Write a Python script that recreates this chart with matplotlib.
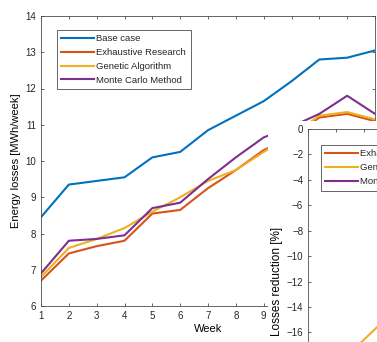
import matplotlib
matplotlib.use('Agg')
import matplotlib.pyplot as plt
from matplotlib.patches import Rectangle

weeks = [1, 2, 3, 4, 5, 6, 7, 8, 9, 10, 11, 12, 13]
week_labels = ['1', '2', '3', '4', '5', '6', '7', '8', '9', '', '', '', '']

# weekly energy losses [MWh/week]
base_case = [8.45, 9.35, 9.45, 9.55, 10.1, 10.25, 10.85, 11.25, 11.65, 12.2, 12.8, 12.85, 13.05]
exhaustive = [6.7, 7.45, 7.65, 7.8, 8.55, 8.65, 9.25, 9.75, 10.3, 10.65, 11.2, 11.3, 11.1]
genetic = [6.8, 7.6, 7.85, 8.15, 8.6, 9.0, 9.45, 9.75, 10.25, 10.7, 11.25, 11.35, 11.15]
monte_carlo = [6.9, 7.8, 7.85, 7.95, 8.7, 8.85, 9.5, 10.1, 10.65, 10.95, 11.3, 11.8, 11.3]

# losses reduction [%] (inset, mostly cut off)
red_exhaustive = [-20.7, -20.3, -19.0, -18.3, -15.3, -15.6, -14.7, -13.3, -11.6, -12.7, -12.5, -12.1, -14.9]
red_genetic = [-19.5, -18.7, -16.6, -14.5, -14.9, -12.2, -12.9, -13.3, -12.0, -12.3, -12.1, -11.7, -14.6]
red_monte_carlo = [-18.3, -16.9, -16.9, -16.8, -13.9, -13.7, -12.4, -10.2, -8.6, -10.2, -11.7, -8.2, -13.4]

labels = ['Base case', 'Exhaustive Research', 'Genetic Algorithm', 'Monte Carlo Method']
colors = ['#0072BD', '#D95319', '#EDB120', '#7E2F8E']

plt.rcParams['font.family'] = ['Liberation Sans', 'DejaVu Sans']
plt.rcParams['text.color'] = '#262626'
W, H = 377, 342


def style(ax):
    for s in ax.spines.values():
        s.set_color('#4d4d4d')
        s.set_linewidth(0.6)
    ax.tick_params(direction='in', length=2.5, width=0.6, colors='#4d4d4d',
                   labelcolor='#262626', labelsize=7, top=True, right=True)


fig = plt.figure(figsize=(W / 100, H / 100), dpi=100)

ax = fig.add_axes([41 / W, 36 / H, 334 / W, 290 / H])
for ys, c, lab in zip([base_case, exhaustive, genetic, monte_carlo], colors, labels):
    ax.plot(weeks, ys, color=c, lw=1.5, label=lab)
ax.set_xlim(1, 13)
ax.set_ylim(6, 14)
ax.set_xticks(weeks)
ax.set_xticklabels(week_labels)
ax.set_yticks(range(6, 15))
style(ax)
ax.set_xlabel('Week', fontsize=8, labelpad=2)
ax.set_ylabel('Energy losses [MWh/week]', fontsize=8)
ax.yaxis.set_label_coords(-0.06, 0.5)
leg = ax.legend(loc='upper left', bbox_to_anchor=(52 / W, 1 - 25 / H), bbox_transform=fig.transFigure,
                fontsize=6.8, handlelength=3.4, handletextpad=0.3, labelspacing=0.5,
                borderpad=0.5, fancybox=False, framealpha=1, edgecolor='#4d4d4d')
leg.get_frame().set_linewidth(0.6)

# white background of the overlapping second figure
fig.patches.append(Rectangle((268 / W, 0), (W - 268) / W, (H - 121) / H, transform=fig.transFigure,
                             facecolor='white', edgecolor='none', zorder=1))

ax2 = fig.add_axes([308 / W, (H - 434) / H, 334 / W, 305 / H], zorder=2)
for ys, c, lab in zip([red_exhaustive, red_genetic, red_monte_carlo], colors[1:], labels[1:]):
    ax2.plot(weeks, ys, color=c, lw=1.5, label=lab)
ax2.set_xlim(1, 13)
ax2.set_ylim(-24, 0)
ax2.set_xticks(weeks)
ax2.set_yticks(range(-24, 1, 2))
style(ax2)
ax2.tick_params(labelbottom=False)
ax2.set_ylabel('Losses reduction [%]', fontsize=8.5)
ax2.yaxis.set_label_coords(-0.075, 0.5)
leg2 = ax2.legend(loc='upper left', bbox_to_anchor=(316 / W, 1 - 140 / H), bbox_transform=fig.transFigure,
                  fontsize=6.8, handlelength=3.4, handletextpad=0.3, labelspacing=0.5,
                  borderpad=0.5, fancybox=False, framealpha=1, edgecolor='#4d4d4d')
leg2.get_frame().set_linewidth(0.6)

fig.savefig('out.png', dpi=100)
